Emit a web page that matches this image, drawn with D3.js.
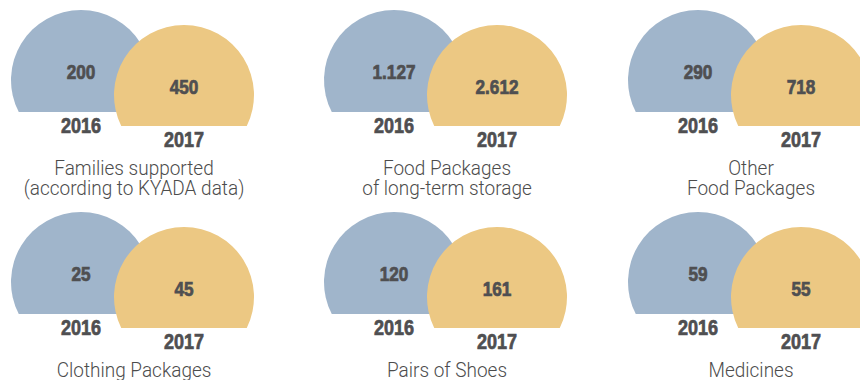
<!DOCTYPE html>
<html>
<head>
<meta charset="utf-8">
<script src="https://cdn.jsdelivr.net/npm/d3@7"></script>
<style>
  html, body { margin: 0; padding: 0; background: #fff; }
  svg { display: block; }
  .val, .year { font-family: "Liberation Sans", Arial, sans-serif; font-weight: bold; fill: #4f4f51; stroke: #4f4f51; stroke-width: 0.7; }
  .title { font-family: Roboto, "Open Sans", sans-serif; font-weight: 300; fill: #4c4c4c; }
</style>
</head>
<body>
<svg id="chart" width="860" height="380"></svg>
<script>
// Aid totals per category, 2016 vs 2017
const categories = [
  ["Families supported", "(according to KYADA data)"],
  ["Food Packages", "of long-term storage"],
  ["Other", "Food Packages"],
  ["Clothing Packages"],
  ["Pairs of Shoes"],
  ["Medicines"]
];
const years = ["2016", "2017"];
const values2016 = [200, 1127, 290, 25, 120, 59];
const values2017 = [450, 2612, 718, 45, 161, 55];

const colors = { "2016": "#a0b5cb", "2017": "#ecc883" };
const fmt = d3.formatLocale({ decimal: ",", thousands: ".", grouping: [3], currency: ["", "€"] }).format(",d");

const svg = d3.select("#chart");

// grid layout: 3 columns x 2 rows
const colX = d3.scaleOrdinal().domain([0, 1, 2]).range([0, 313, 617]);
const rowY = d3.scaleOrdinal().domain([0, 1]).range([0, 202]);

// dome geometry inside one panel, per year
const R = 70;
const domes = {
  "2016": { cx: 81, cy: 80, cut: 112 },
  "2017": { cx: 184, cy: 95, cut: 126 }
};

// circle truncated by a horizontal line below its centre
function domePath(cx, cy, r, cutY) {
  const a = Math.asin((cutY - cy) / r);
  const p = d3.path();
  p.arc(cx, cy, r, a, Math.PI - a, true);
  p.closePath();
  return p.toString();
}

const panels = svg.selectAll("g.panel")
  .data(categories.map((title, i) => ({
    title, i,
    vals: { "2016": values2016[i], "2017": values2017[i] }
  })))
  .join("g")
  .attr("class", "panel")
  .attr("transform", d => `translate(${colX(d.i % 3)},${rowY(Math.floor(d.i / 3))})`);

years.forEach(y => {
  const g = domes[y];
  panels.append("path")
    .attr("d", domePath(g.cx, g.cy, R, g.cut))
    .attr("fill", colors[y]);
  // condensed bold figures (horizontal squeeze)
  panels.append("text")
    .attr("class", "val")
    .attr("transform", `translate(${g.cx},${g.cy - 1}) scale(0.88,1)`)
    .attr("text-anchor", "middle")
    .attr("font-size", 19.5)
    .text(d => fmt(d.vals[y]));
  panels.append("text")
    .attr("class", "year")
    .attr("transform", `translate(${g.cx},${g.cut + 21}) scale(0.84,1)`)
    .attr("text-anchor", "middle")
    .attr("font-size", 21.5)
    .text(y);
});

panels.append("text")
  .attr("class", "title")
  .attr("transform", "translate(134,0) scale(0.95,1)")
  .attr("text-anchor", "middle")
  .attr("font-size", 20)
  .selectAll("tspan")
  .data(d => d.title)
  .join("tspan")
  .attr("x", 0)
  .attr("y", (t, j) => 175.5 + j * 20)
  .text(t => t);
</script>
</body>
</html>
